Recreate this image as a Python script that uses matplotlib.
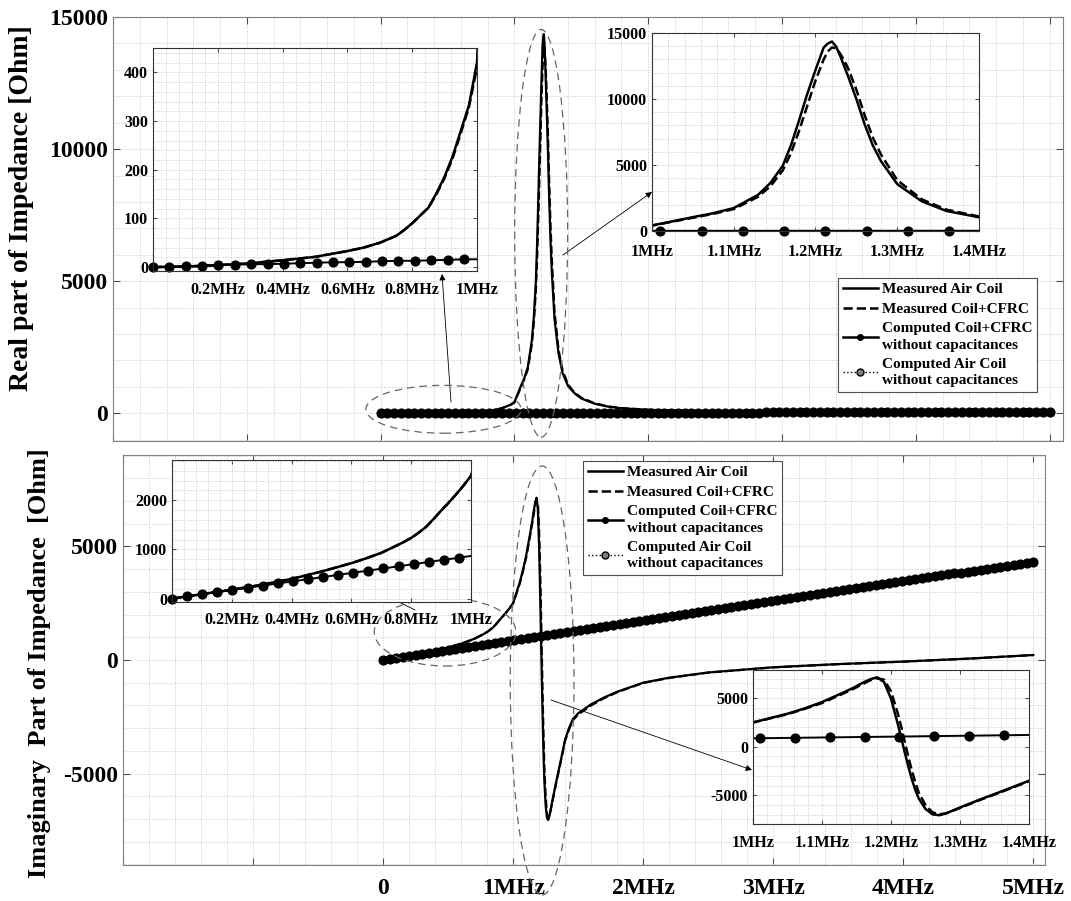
import numpy as np
import matplotlib.pyplot as plt
from matplotlib.lines import Line2D
from matplotlib.patches import Ellipse
from matplotlib.ticker import AutoMinorLocator

plt.rcParams['font.family'] = ['Liberation Serif', 'DejaVu Serif']
plt.rcParams['font.weight'] = 'bold'
plt.rcParams['axes.linewidth'] = 0.8
plt.rcParams['axes.unicode_minus'] = False

W, H = 1071, 901

# measured sweep (MHz) (Ohm)
f_meas = [0, 0.1, 0.2, 0.3, 0.4, 0.5, 0.6,
          0.65, 0.7, 0.75, 0.775, 0.8, 0.825, 0.85, 0.875, 0.9, 0.925, 0.95, 0.975, 1.0,
          1.05, 1.075, 1.1, 1.13, 1.145, 1.16, 1.17, 1.18, 1.19, 1.2,
          1.21, 1.215, 1.22, 1.225, 1.23, 1.235, 1.24, 1.25, 1.26, 1.27, 1.28,
          1.3, 1.33, 1.36, 1.4, 1.43, 1.46, 1.5,
          1.6, 1.7, 1.8, 2.0, 2.2, 2.5,
          3.0, 3.5, 4.0, 4.5, 5.0]
re_air = [0, 1, 4, 8, 14, 21, 33,
          40, 50, 64, 76, 90, 106, 122, 152, 186, 228, 280, 332, 420,
          1050, 1350, 1740, 2750, 3650, 4950, 6500, 8400, 10400, 12200,
          13900, 14200, 14350, 14000, 13300, 12500, 11700, 10000, 8100, 6500, 5300,
          3550, 2250, 1520, 1040, 860, 710, 560,
          360, 250, 190, 130, 100, 80,
          60, 50, 45, 42, 40]
re_cfrc = [0, 1, 4, 8, 14, 21, 33,
           40, 50, 64, 76, 90, 106, 122, 150, 183, 224, 275, 328, 410,
           1000, 1300, 1660, 2600, 3400, 4600, 5900, 7600, 9500, 11400,
           13000, 13600, 13900, 13850, 13450, 12950, 12300, 10700, 8800, 7100, 5800,
           3850, 2400, 1620, 1100, 900, 745, 590,
           375, 260, 195, 135, 105, 82,
           62, 52, 46, 43, 41]
im_air = [0, 90, 180, 280, 400, 550, 720,
          820, 930, 1075, 1150, 1235, 1340, 1460, 1620, 1790, 1950, 2120, 2300, 2500,
          3400, 3950, 4600, 5550, 6050, 6620, 6950, 7150, 6650, 4950,
          2300, 850, -600, -2000, -3300, -4400, -5300, -6400, -6950, -7050, -6850,
          -6250, -5400, -4600, -3500, -3000, -2600, -2350,
          -1950, -1650, -1400, -1000, -780, -550,
          -320, -180, -70, 60, 220]
im_cfrc = [0, 90, 180, 280, 400, 550, 720,
           820, 930, 1075, 1150, 1235, 1340, 1460, 1620, 1790, 1950, 2120, 2300, 2500,
           3350, 3900, 4500, 5450, 5950, 6480, 6850, 7050, 6900, 5700,
           3400, 2000, 500, -1000, -2400, -3600, -4700, -6000, -6750, -6950, -6850,
           -6300, -5450, -4650, -3550, -3050, -2650, -2400,
           -2000, -1680, -1420, -1010, -790, -555,
           -325, -185, -72, 58, 218]

# computed sweep: 100 frequency points from 0 to 5 MHz
f_comp = np.linspace(0, 5, 100)
re_comp = [0, 1, 2, 3, 4, 5, 6, 6, 7, 8, 9, 10, 10, 11, 12, 13, 13, 14, 15, 16, 16,
           17, 17, 17, 18, 18, 18, 19, 19, 19, 20, 20, 20, 21, 21, 21, 22, 22, 22,
           23, 23, 23, 24, 24, 24, 25, 25, 25, 26, 26, 26, 27, 27, 27, 28, 28, 28,
           29, 29, 29, 30, 30, 30, 31, 31, 31, 32, 32, 32, 33, 33, 33, 34, 34, 34,
           35, 35, 35, 36, 36, 36, 37, 37, 37, 38, 38, 38, 39, 39, 39, 40, 40, 40,
           41, 41, 41, 42, 42, 42, 43]
im_comp = [0, 44, 88, 131, 175, 219, 263, 307, 350, 394, 438, 482, 526, 569, 613,
           657, 701, 745, 788, 832, 876, 920, 964, 1007, 1051, 1095, 1139, 1183, 1226,
           1270, 1314, 1358, 1402, 1445, 1489, 1533, 1577, 1621, 1664, 1708, 1752, 1796,
           1840, 1883, 1927, 1971, 2015, 2059, 2102, 2146, 2190, 2234, 2278, 2321, 2365,
           2409, 2453, 2497, 2540, 2584, 2628, 2672, 2716, 2759, 2803, 2847, 2891, 2935,
           2978, 3022, 3066, 3110, 3154, 3197, 3241, 3285, 3329, 3373, 3416, 3460, 3504,
           3548, 3592, 3635, 3679, 3723, 3767, 3811, 3854, 3898, 3942, 3986, 4030, 4073,
           4117, 4161, 4205, 4249, 4292, 4336]

legend_labels = ['Measured Air Coil', 'Measured Coil+CFRC',
                 'Computed Coil+CFRC\nwithout capacitances',
                 'Computed Air Coil\nwithout capacitances']
main_xticks = [-2, -1, 0, 1, 2, 3, 4, 5]
main_xlabels = ['', '', '0', '1MHz', '2MHz', '3MHz', '4MHz', '5MHz']


def box(left, top, right, bottom):
    # pixel box (from top-left) -> figure fraction rect
    return [left / W, 1 - bottom / H, (right - left) / W, (bottom - top) / H]


def style(ax, size, main=True):
    ax.tick_params(which='both', direction='in', top=True, right=True, labelsize=size)
    ax.tick_params(which='minor', length=0)
    ax.tick_params(which='major', length=5 if main else 3, color='0.3')
    ax.xaxis.set_minor_locator(AutoMinorLocator(5))
    ax.yaxis.set_minor_locator(AutoMinorLocator(5))
    ax.grid(which='both', ls=':', lw=0.7, color='0.78')
    ax.set_axisbelow(True)
    for s in ax.spines.values():
        s.set_color('0.5' if main else '0.2')
    for lab in ax.get_xticklabels() + ax.get_yticklabels():
        lab.set_fontweight('bold')


def draw(ax, meas_a, meas_b, comp, xlo, xhi, lw=1.6):
    ax.plot(f_meas, meas_a, color='k', lw=lw)
    ax.plot(f_meas, meas_b, color='k', lw=lw, ls='--')
    ax.plot(f_comp, comp, color='k', lw=1.4)
    m = (f_comp >= xlo - 1e-9) & (f_comp <= xhi + 1e-9)
    vc = np.array(comp)[m]
    ax.plot(f_comp[m], vc, ls='none', marker='o', ms=6.5, mfc='0.35', mec='k',
            mew=0.8, clip_on=False)
    ax.plot(f_comp[m], vc, ls='none', marker='o', ms=5.5, mfc='k', mec='k',
            clip_on=False)


def mhz(v):
    return '1MHz' if abs(v - 1) < 1e-9 else '%gMHz' % v


def ellipse(ax, cx, cy, w, h):
    ax.add_patch(Ellipse((cx, cy), w, h, fill=False, ls=(0, (6, 4)), ec='0.4',
                         lw=0.9, clip_on=False, zorder=5))


def arrow(ax, tail, head):
    ax.annotate('', xy=(head[0], H - head[1]), xytext=(tail[0], H - tail[1]),
                xycoords='figure pixels', textcoords='figure pixels',
                arrowprops=dict(arrowstyle='-|>', color='k', lw=0.6,
                                mutation_scale=9, shrinkA=0, shrinkB=0),
                annotation_clip=False)


fig = plt.figure(figsize=(W / 100, H / 100), dpi=100)

# ---- real part, main axes
ax1 = fig.add_axes(box(113, 17, 1063, 441))
draw(ax1, re_air, re_cfrc, re_comp, -2, 5.1)
ax1.set_xlim(-2, 5.1)
ax1.set_ylim(-1050, 15000)
ax1.set_xticks(main_xticks)
ax1.set_xticklabels([])
ax1.set_yticks([0, 5000, 10000, 15000])
style(ax1, 17)
ellipse(ax1, 0.47, 150, 1.16, 1811)
ellipse(ax1, 1.20, 6811, 0.396, 15434)

# ---- imaginary part, main axes
ax2 = fig.add_axes(box(123, 455, 1045, 865))
draw(ax2, im_air, im_cfrc, im_comp, -2, 5.1)
ax2.set_xlim(-2, 5.09)
ax2.set_ylim(-9030, 9030)
ax2.set_xticks(main_xticks)
ax2.set_xticklabels(main_xlabels)
ax2.set_yticks([-5000, 0, 5000])
style(ax2, 17)
ax2.tick_params(axis='x', pad=9)
ellipse(ax2, 0.477, 1233, 1.09, 2995)
ellipse(ax2, 1.223, -903, 0.49, 18900)

arrow(ax1, (451, 402), (442, 274))
arrow(ax1, (563, 255), (652, 192))
arrow(ax2, (415, 610), (373, 589))
arrow(ax2, (551, 700), (752, 770))

# ---- insets
in1 = fig.add_axes(box(153, 48, 477, 271))
draw(in1, re_air, re_cfrc, re_comp, 0, 1.0, lw=1.8)
in1.set_xlim(0, 1.0)
in1.set_ylim(-8, 450)
in1.set_xticks([0.2, 0.4, 0.6, 0.8, 1.0])
in1.set_xticklabels([mhz(v) for v in [0.2, 0.4, 0.6, 0.8, 1.0]])
in1.set_yticks([0, 100, 200, 300, 400])
style(in1, 11.5, main=False)
in1.tick_params(axis='x', pad=8)

in2 = fig.add_axes(box(652, 33, 979, 231))
draw(in2, re_air, re_cfrc, re_comp, 1.0, 1.4, lw=1.8)
in2.set_xlim(1.0, 1.4)
in2.set_ylim(0, 15000)
in2.set_xticks([1.0, 1.1, 1.2, 1.3, 1.4])
in2.set_xticklabels([mhz(v) for v in [1.0, 1.1, 1.2, 1.3, 1.4]])
in2.set_yticks([0, 5000, 10000, 15000])
style(in2, 11.5, main=False)
in2.tick_params(axis='x', pad=9)

in3 = fig.add_axes(box(172, 460, 471, 602))
draw(in3, im_air, im_cfrc, im_comp, 0, 1.0, lw=1.8)
in3.set_xlim(0, 1.0)
in3.set_ylim(-70, 2820)
in3.set_xticks([0.2, 0.4, 0.6, 0.8, 1.0])
in3.set_xticklabels([mhz(v) for v in [0.2, 0.4, 0.6, 0.8, 1.0]])
in3.set_yticks([0, 1000, 2000])
style(in3, 11.5, main=False)
in3.tick_params(axis='x', pad=7)

in4 = fig.add_axes(box(753, 670, 1029, 824))
draw(in4, im_air, im_cfrc, im_comp, 1.0, 1.395, lw=1.8)
in4.set_xlim(1.0, 1.395)
in4.set_ylim(-7950, 7900)
in4.set_xticks([1.0, 1.1, 1.2, 1.3, 1.4])
in4.set_xticklabels([mhz(v) for v in [1.0, 1.1, 1.2, 1.3, 1.4]])
in4.set_yticks([-5000, 0, 5000])
style(in4, 11.5, main=False)
in4.tick_params(axis='x', pad=8)

# ---- legends
handles = [Line2D([], [], color='k', lw=1.8),
           Line2D([], [], color='k', lw=1.8, ls='--'),
           Line2D([], [], color='k', lw=1.8, marker='o', ms=4),
           Line2D([], [], color='k', lw=1, ls=':', marker='o', ms=5, mfc='0.5', mec='k')]
for anchor in [(838, 278), (583, 461)]:
    leg = fig.legend(handles, legend_labels, loc='upper left',
                     bbox_to_anchor=(anchor[0] / W, 1 - anchor[1] / H),
                     fontsize=11, fancybox=False, edgecolor='0.3', framealpha=1,
                     borderpad=0.3, labelspacing=0.4, handlelength=2.3,
                     handletextpad=0.3, borderaxespad=0)
    leg.get_frame().set_linewidth(0.8)
    for t in leg.get_texts():
        t.set_fontweight('bold')
        t.set_linespacing(1.35)

fig.text(22 / W, 1 - 208 / H, 'Real part of Impedance [Ohm]', rotation=90,
         ha='center', va='center', fontsize=20, fontweight='bold')
fig.text(40 / W, 1 - 663 / H, 'Imaginary  Part of Impedance  [Ohm]', rotation=90,
         ha='center', va='center', fontsize=19, fontweight='bold')

fig.savefig('out.png', dpi=100)
